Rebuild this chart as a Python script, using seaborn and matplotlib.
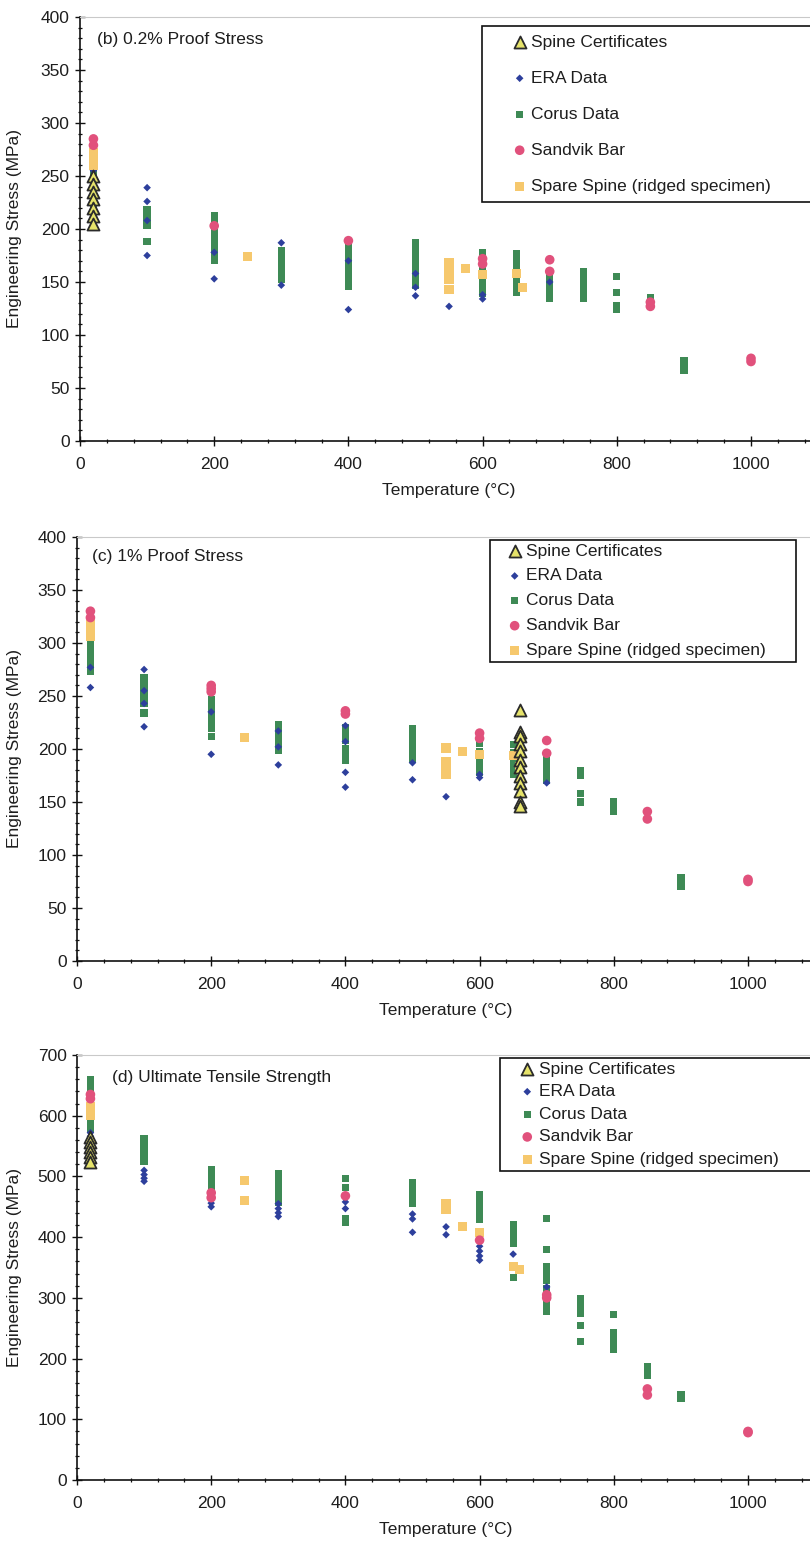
import matplotlib
matplotlib.use("Agg")
import matplotlib.pyplot as plt
from matplotlib.ticker import MultipleLocator
from matplotlib.legend_handler import HandlerPathCollection
from matplotlib.collections import PathCollection
import seaborn as sns
import pandas as pd

# ---------------- data (temperature °C, engineering stress MPa) ----------------
SERIES = ["Spine Certificates", "ERA Data", "Corus Data", "Sandvik Bar",
          "Spare Spine (ridged specimen)"]

# (b) 0.2% proof stress
B_CERT = [(20, 250), (20, 242), (20, 235), (20, 228), (20, 220), (20, 212), (20, 205)]
B_ERA = [(20, 255), (20, 226), (20, 212), (100, 239), (100, 226), (100, 208), (100, 175),
         (200, 178), (200, 153), (300, 187), (300, 147), (400, 170), (400, 124),
         (500, 158), (500, 145), (500, 137), (550, 152), (550, 127), (600, 138),
         (600, 134), (700, 150)]
B_CORUS = [(20, 256), (20, 250), (20, 245), (20, 240), (20, 236), (20, 232), (20, 228),
           (20, 224), (20, 220), (100, 218), (100, 213), (100, 208), (100, 203), (100, 188),
           (200, 213), (200, 207), (200, 200), (200, 194), (200, 188), (200, 182), (200, 176),
           (200, 170), (300, 180), (300, 175), (300, 168), (300, 162), (300, 157), (300, 152),
           (400, 184), (400, 178), (400, 172), (400, 165), (400, 158), (400, 152), (400, 146),
           (500, 187), (500, 182), (500, 177), (500, 172), (500, 167), (500, 162), (500, 157),
           (500, 152), (500, 147), (600, 178), (600, 172), (600, 165), (600, 158), (600, 150),
           (600, 144), (600, 139), (650, 177), (650, 171), (650, 165), (650, 158), (650, 152),
           (650, 146), (650, 140), (700, 158), (700, 152), (700, 146), (700, 140), (700, 135),
           (750, 160), (750, 155), (750, 150), (750, 145), (750, 140), (750, 135),
           (800, 155), (800, 140), (800, 128), (800, 124), (850, 135),
           (900, 76), (900, 72), (900, 67)]
B_SANDVIK = [(20, 285), (20, 279), (200, 203), (400, 189), (600, 172), (600, 167),
             (700, 171), (700, 160), (850, 131), (850, 127), (1000, 78), (1000, 75)]
B_SPARE = [(20, 272), (20, 266), (20, 260), (250, 174), (550, 168), (550, 160), (550, 152),
           (550, 143), (575, 163), (600, 157), (650, 158), (660, 145)]

# (c) 1% proof stress
C_CERT = [(660, 237), (660, 216), (660, 212), (660, 205), (660, 198), (660, 190),
          (660, 183), (660, 175), (660, 168), (660, 160), (660, 150), (660, 146)]
C_ERA = [(20, 277), (20, 258), (100, 275), (100, 255), (100, 243), (100, 221),
         (200, 235), (200, 195), (300, 217), (300, 202), (300, 185), (400, 222),
         (400, 207), (400, 178), (400, 164), (500, 187), (500, 171), (550, 155),
         (600, 176), (600, 173), (700, 168)]
C_CORUS = [(20, 302), (20, 297), (20, 292), (20, 287), (20, 282), (20, 277), (20, 273),
           (100, 267), (100, 261), (100, 255), (100, 249), (100, 243), (100, 234),
           (200, 247), (200, 240), (200, 233), (200, 226), (200, 219), (200, 212),
           (300, 223), (300, 217), (300, 211), (300, 205), (300, 199),
           (400, 220), (400, 214), (400, 208), (400, 200), (400, 194), (400, 189),
           (500, 219), (500, 213), (500, 207), (500, 201), (500, 195), (500, 190),
           (600, 205), (600, 198), (600, 190), (600, 184), (600, 178),
           (650, 204), (650, 197), (650, 190), (650, 183), (650, 176),
           (700, 190), (700, 185), (700, 180), (700, 175), (700, 170),
           (750, 180), (750, 175), (750, 158), (750, 150),
           (800, 150), (800, 145), (800, 141), (900, 79), (900, 74), (900, 70)]
C_SANDVIK = [(20, 330), (20, 324), (200, 260), (200, 257), (200, 254), (400, 236),
             (400, 233), (600, 215), (600, 210), (700, 208), (700, 196), (850, 141),
             (850, 134), (1000, 77), (1000, 75)]
C_SPARE = [(20, 318), (20, 312), (20, 306), (250, 211), (550, 201), (550, 188), (550, 182),
           (550, 176), (575, 198), (600, 195), (650, 194), (660, 183)]

# (d) ultimate tensile strength
D_CERT = [(20, 565), (20, 556), (20, 548), (20, 540), (20, 532), (20, 524)]
D_ERA = [(20, 572), (20, 566), (100, 510), (100, 503), (100, 497), (100, 492),
         (200, 456), (200, 450), (300, 455), (300, 447), (300, 440), (300, 434),
         (400, 458), (400, 447), (500, 438), (500, 430), (500, 408), (550, 417),
         (550, 404), (600, 385), (600, 377), (600, 369), (600, 362), (650, 372), (700, 318)]
D_CORUS = [(20, 660), (20, 653), (20, 646), (20, 640), (20, 590), (20, 583), (20, 577),
           (100, 562), (100, 555), (100, 548), (100, 540), (100, 532), (100, 525),
           (200, 512), (200, 505), (200, 498), (200, 491), (200, 484),
           (300, 505), (300, 498), (300, 491), (300, 484), (300, 477), (300, 470),
           (300, 463), (300, 457), (400, 497), (400, 482), (400, 430), (400, 425),
           (500, 490), (500, 483), (500, 476), (500, 469), (500, 462), (500, 455),
           (600, 470), (600, 462), (600, 454), (600, 446), (600, 438), (600, 430),
           (650, 420), (650, 412), (650, 404), (650, 396), (650, 389), (650, 333),
           (700, 431), (700, 380), (700, 352), (700, 340), (700, 328), (700, 315),
           (700, 302), (700, 290), (700, 278), (750, 298), (750, 290), (750, 282),
           (750, 275), (750, 255), (750, 228), (800, 272), (800, 242), (800, 233),
           (800, 224), (800, 215), (850, 187), (850, 178), (850, 172),
           (900, 140), (900, 134)]
D_SANDVIK = [(20, 635), (20, 628), (200, 473), (200, 465), (400, 468), (600, 395),
             (700, 305), (700, 300), (850, 150), (850, 140), (1000, 80), (1000, 78)]
D_SPARE = [(20, 615), (20, 607), (20, 600), (250, 493), (250, 460), (550, 455), (550, 445),
           (575, 417), (600, 408), (650, 352), (660, 347)]

TITLES = ["(b) 0.2% Proof Stress", "(c) 1% Proof Stress", "(d) Ultimate Tensile Strength"]
X_TICKS = [0, 200, 400, 600, 800, 1000]

# ---------------- style ----------------
sns.set_theme(style="white")
plt.rcParams["font.family"] = ["Liberation Sans", "DejaVu Sans"]
FS = 12.5
TXT = "#1e1e1e"

STYLE = {
    "Spine Certificates": dict(marker="^", s=75, color="#e6e36a", edgecolor="#2b2b2b", linewidth=1.3),
    "ERA Data": dict(marker="D", s=15, color="#2d3f9c", edgecolor="none", linewidth=0),
    "Corus Data": dict(marker="s", s=27, color="#3e8a55", edgecolor="none", linewidth=0),
    "Sandvik Bar": dict(marker="o", s=48, color="#e1517c", edgecolor="none", linewidth=0),
    "Spare Spine (ridged specimen)": dict(marker="s", s=44, color="#f6c86d", edgecolor="none", linewidth=0),
}
DRAW_ORDER = ["Corus Data", "ERA Data", "Spare Spine (ridged specimen)", "Sandvik Bar",
              "Spine Certificates"]


class RightMarkerHandler(HandlerPathCollection):
    def get_xdata(self, legend, xdescent, ydescent, width, height, fontsize):
        return [-xdescent, -xdescent + width], [-xdescent + width - 0.33 * fontsize]


def to_df(pairs):
    return pd.DataFrame(pairs, columns=["T", "S"])


W, H = 810, 1543
fig = plt.figure(figsize=(W / 100, H / 100), dpi=100)

panels = [
    dict(data={"Spine Certificates": B_CERT, "ERA Data": B_ERA, "Corus Data": B_CORUS,
               "Sandvik Bar": B_SANDVIK, "Spare Spine (ridged specimen)": B_SPARE},
         left=80, top=17, bottom=441, ymax=400, ymaj=50, ymin=10,
         leg=dict(x=482, y=26, right=835, labelspacing=1.2, borderpad=0.5, handlelength=2.0),
         title=(0.023, 0.946)),
    dict(data={"Spine Certificates": C_CERT, "ERA Data": C_ERA, "Corus Data": C_CORUS,
               "Sandvik Bar": C_SANDVIK, "Spare Spine (ridged specimen)": C_SPARE},
         left=77, top=537, bottom=961, ymax=400, ymaj=50, ymin=10,
         leg=dict(x=490, y=540, right=796, labelspacing=0.56, borderpad=0.2, handlelength=1.55),
         title=(0.020, 0.953)),
    dict(data={"Spine Certificates": D_CERT, "ERA Data": D_ERA, "Corus Data": D_CORUS,
               "Sandvik Bar": D_SANDVIK, "Spare Spine (ridged specimen)": D_SPARE},
         left=77, top=1055, bottom=1480, ymax=700, ymaj=100, ymin=20,
         leg=dict(x=500, y=1058, right=815, labelspacing=0.43, borderpad=0.2, handlelength=1.7),
         title=(0.047, 0.948)),
]

XMAX = 1100
PX_PER_DEG = 0.671

for p, title in zip(panels, TITLES):
    ax_w = XMAX * PX_PER_DEG
    ax = fig.add_axes([p["left"] / W, 1 - p["bottom"] / H, ax_w / W, (p["bottom"] - p["top"]) / H])
    handles = {}
    for name in DRAW_ORDER:
        st = STYLE[name]
        df = to_df(p["data"][name])
        sns.scatterplot(data=df, x="T", y="S", ax=ax, marker=st["marker"], s=st["s"],
                        color=st["color"], edgecolor=st["edgecolor"], linewidth=st["linewidth"],
                        label=name, legend=False, zorder=3)
        handles[name] = ax.collections[-1]

    ax.set_xlim(0, XMAX)
    ax.set_ylim(0, p["ymax"])
    ax.set_xticks(X_TICKS)
    ax.xaxis.set_minor_locator(MultipleLocator(40))
    ax.yaxis.set_major_locator(MultipleLocator(p["ymaj"]))
    ax.yaxis.set_minor_locator(MultipleLocator(p["ymin"]))

    ax.tick_params(axis="both", which="major", direction="inout", length=7, width=1.0,
                   color="#111111", labelsize=FS, labelcolor=TXT)
    ax.tick_params(axis="both", which="minor", direction="inout", length=3.5, width=0.9,
                   color="#111111")
    ax.tick_params(axis="y", which="major", pad=4)
    ax.tick_params(axis="x", which="major", pad=8)
    ax.tick_params(left=True, bottom=True, which="both")

    for side in ["left", "bottom"]:
        ax.spines[side].set_color("#111111")
        ax.spines[side].set_linewidth(1.2)
    ax.spines["right"].set_visible(False)
    ax.spines["top"].set_color("#c9c9c9")
    ax.spines["top"].set_linewidth(0.8)

    ax.set_xlabel("Temperature (°C)", fontsize=FS, color=TXT)
    ax.set_ylabel("Engineering Stress (MPa)", fontsize=FS, color=TXT)
    ax.xaxis.set_label_coords(0.5, -42 / (p["bottom"] - p["top"]))
    ax.yaxis.set_label_coords((22 - p["left"]) / ax_w, 0.5)

    ax.text(p["title"][0], p["title"][1], title, transform=ax.transAxes, fontsize=FS,
            color=TXT, ha="left", va="center")

    lg = p["leg"]
    leg = ax.legend([handles[n] for n in SERIES], SERIES, loc="upper left", mode="expand",
                    bbox_to_anchor=(lg["x"] / W, 1 - lg["y"] / H, (lg["right"] - lg["x"]) / W, 0),
                    bbox_transform=fig.transFigure,
                    borderaxespad=0, fontsize=FS, frameon=True, fancybox=False, framealpha=1,
                    edgecolor="#111111", labelspacing=lg["labelspacing"], borderpad=lg["borderpad"],
                    handlelength=lg["handlelength"], handletextpad=0.35, scatterpoints=1,
                    handler_map={PathCollection: RightMarkerHandler()})
    leg.get_frame().set_linewidth(1.2)
    for t in leg.get_texts():
        t.set_color(TXT)

fig.savefig("out.png", dpi=100)
